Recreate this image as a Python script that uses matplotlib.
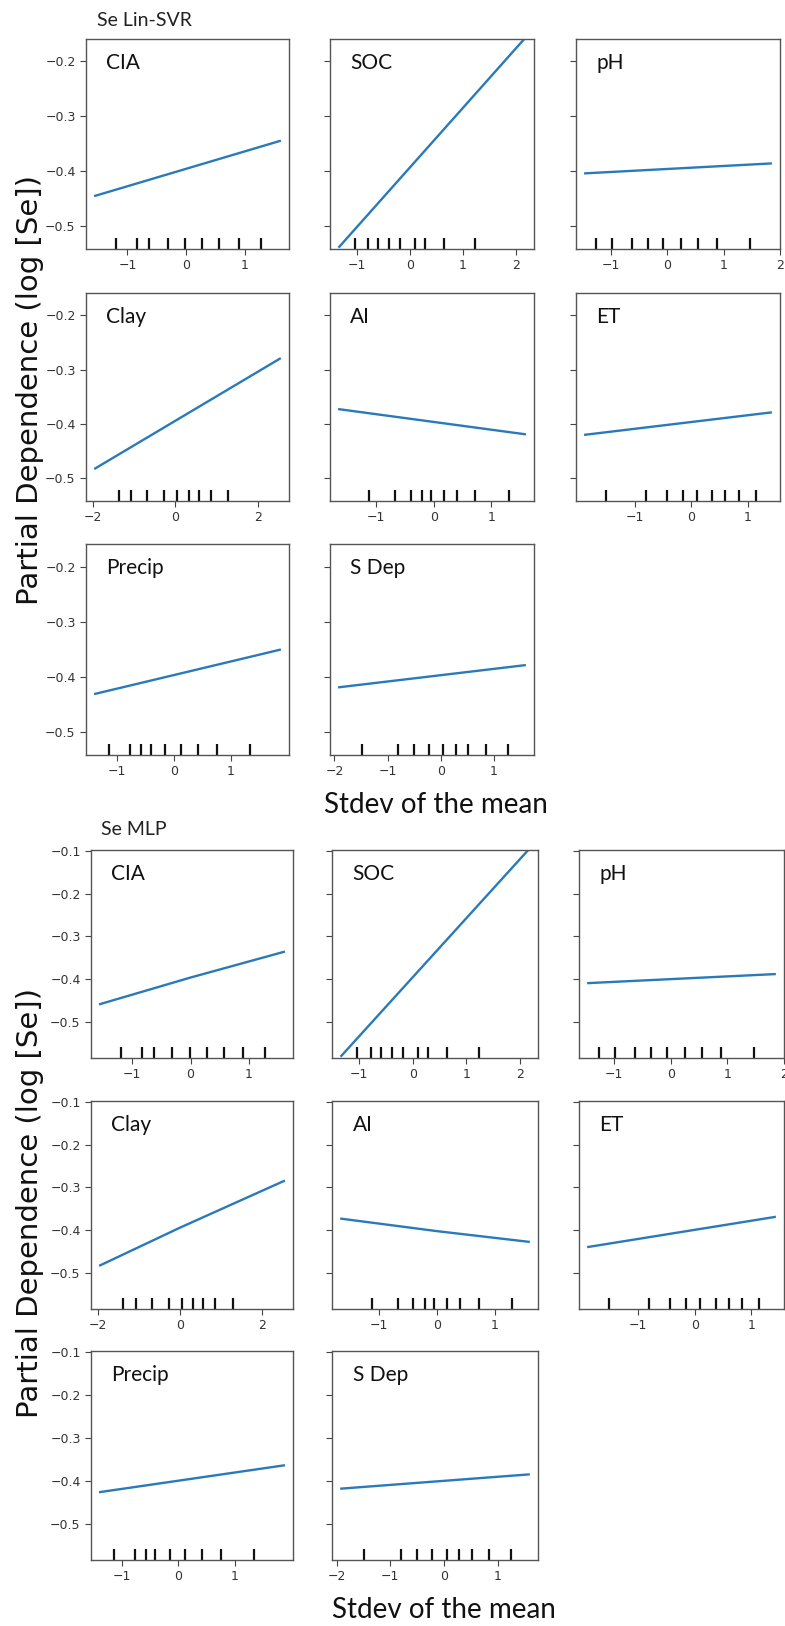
import matplotlib.pyplot as plt

# feature names and decile positions (same data for both models)
features = ["CIA", "SOC", "pH", "Clay", "AI", "ET", "Precip", "S Dep"]
deciles = {
    "CIA": [-1.2, -0.83, -0.63, -0.31, -0.01, 0.28, 0.57, 0.9, 1.28],
    "SOC": [-1.03, -0.78, -0.6, -0.39, -0.19, 0.09, 0.29, 0.64, 1.23],
    "pH": [-1.27, -0.99, -0.63, -0.35, -0.07, 0.25, 0.55, 0.89, 1.47],
    "Clay": [-1.38, -1.08, -0.68, -0.27, 0.04, 0.33, 0.57, 0.86, 1.29],
    "AI": [-1.12, -0.67, -0.4, -0.21, -0.05, 0.17, 0.4, 0.72, 1.3],
    "ET": [-1.52, -0.8, -0.43, -0.15, 0.1, 0.37, 0.6, 0.84, 1.14],
    "Precip": [-1.15, -0.78, -0.58, -0.41, -0.15, 0.12, 0.42, 0.76, 1.34],
    "S Dep": [-1.48, -0.8, -0.5, -0.22, 0.05, 0.28, 0.52, 0.85, 1.26],
}
xticks = {
    "CIA": [-1, 0, 1], "SOC": [-1, 0, 1, 2], "pH": [-1, 0, 1, 2],
    "Clay": [-2, 0, 2], "AI": [-1, 0, 1], "ET": [-1, 0, 1],
    "Precip": [-1, 0, 1], "S Dep": [-2, -1, 0, 1],
}

# partial dependence curves: x grid points and y values
svr_x = {
    "CIA": [-1.55, 1.6], "SOC": [-1.33, 2.16], "pH": [-1.46, 1.84],
    "Clay": [-1.95, 2.54], "AI": [-1.64, 1.58], "ET": [-1.88, 1.41],
    "Precip": [-1.39, 1.87], "S Dep": [-1.91, 1.58],
}
svr_y = {
    "CIA": [-0.445, -0.345], "SOC": [-0.538, -0.158], "pH": [-0.404, -0.386],
    "Clay": [-0.482, -0.280], "AI": [-0.373, -0.419], "ET": [-0.420, -0.379],
    "Precip": [-0.431, -0.351], "S Dep": [-0.419, -0.379],
}
mlp_x = {
    "CIA": [-1.55, 0, 1.6], "SOC": [-1.33, 2.16], "pH": [-1.46, 1.84],
    "Clay": [-1.95, 0, 2.54], "AI": [-1.64, 0, 1.58], "ET": [-1.88, 1.41],
    "Precip": [-1.39, 1.87], "S Dep": [-1.91, 1.58],
}
mlp_y = {
    "CIA": [-0.458, -0.396, -0.336], "SOC": [-0.579, -0.097], "pH": [-0.409, -0.388],
    "Clay": [-0.482, -0.394, -0.285], "AI": [-0.373, -0.402, -0.427],
    "ET": [-0.439, -0.369], "Precip": [-0.426, -0.364], "S Dep": [-0.418, -0.385],
}

W, H = 785, 1626
fig = plt.figure(figsize=(W / 100, H / 100), dpi=100)

LABEL_FONT = ["Lato", "DejaVu Sans"]


def px_axes(x0, x1, y0, y1):
    return fig.add_axes([x0 / W, 1 - y1 / H, (x1 - x0) / W, (y1 - y0) / H])


def draw_block(cols, rows, ylim, yticks, xs, ys, title, title_pos, xlabel_pos, ylabel_pos):
    for i, name in enumerate(features):
        r, c = divmod(i, 3)
        ax = px_axes(cols[c][0], cols[c][1], rows[r][0], rows[r][1])
        ax.plot(xs[name], ys[name], color="#2a7ab9", lw=1.7)
        ax.vlines(deciles[name], 0, 0.052, transform=ax.get_xaxis_transform(),
                  color="#111111", lw=1.6)
        ax.set_ylim(ylim)
        ax.set_yticks(yticks)
        ax.set_xticks(xticks[name])
        ax.set_xticklabels([str(t).replace("-", "\u2212") for t in xticks[name]])
        if c == 0:
            ax.set_yticklabels([f"{t:.1f}".replace("-", "\u2212") for t in yticks])
        else:
            ax.set_yticklabels([])
        ax.tick_params(labelsize=9, colors="#444444", labelcolor="#333333", length=4)
        for s in ax.spines.values():
            s.set_color("#555555")
            s.set_linewidth(1.0)
        ax.text(0.1, 0.885, name, transform=ax.transAxes, va="center", ha="left",
                fontsize=15, family=LABEL_FONT, color="#111111")
    fig.text(title_pos[0] / W, 1 - title_pos[1] / H, title, ha="left", va="center",
             fontsize=14, family=LABEL_FONT, color="#222222")
    fig.text(xlabel_pos[0] / W, 1 - xlabel_pos[1] / H, "Stdev of the mean",
             ha="center", va="center", fontsize=20, family=LABEL_FONT, color="#111111")
    fig.text(ylabel_pos[0] / W, 1 - ylabel_pos[1] / H, "Partial Dependence (log [Se])",
             ha="center", va="center", rotation=90, fontsize=21, color="#111111")


draw_block(
    cols=[(86, 289), (330, 534), (576, 780)],
    rows=[(39, 249), (293, 501), (544, 755)],
    ylim=(-0.542, -0.159), yticks=[-0.5, -0.4, -0.3, -0.2],
    xs=svr_x, ys=svr_y, title="Se Lin-SVR", title_pos=(97, 21),
    xlabel_pos=(436, 805), ylabel_pos=(30, 390),
)
draw_block(
    cols=[(91, 293), (332, 538), (579, 784)],
    rows=[(850, 1058), (1101, 1309), (1351, 1560)],
    ylim=(-0.584, -0.098), yticks=[-0.5, -0.4, -0.3, -0.2, -0.1],
    xs=mlp_x, ys=mlp_y, title="Se MLP", title_pos=(101, 829),
    xlabel_pos=(444, 1610), ylabel_pos=(30, 1203),
)

fig.savefig("out.png", dpi=100)
